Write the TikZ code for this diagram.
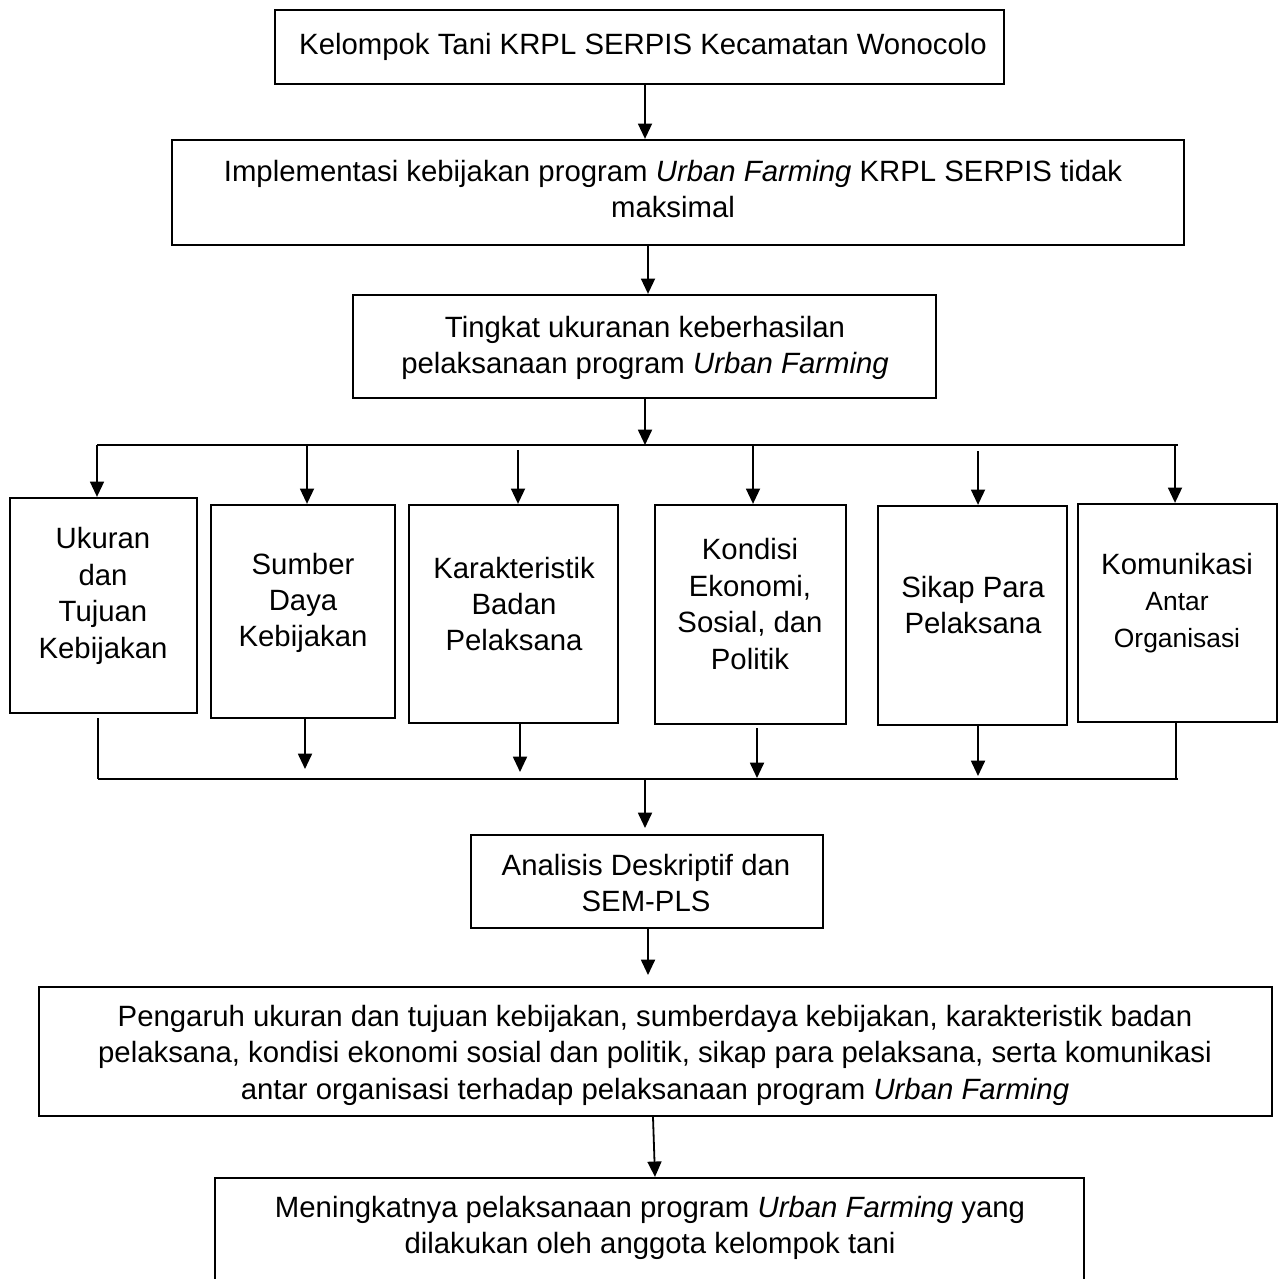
\documentclass[tikz,border=0pt]{standalone}
\usepackage{fontspec}
\setmainfont{Liberation Sans}
\usetikzlibrary{arrows.meta,fit,calc}
\newcommand{\smlfont}{\fontsize{19.8}{24.5}\selectfont}
\begin{document}
\begin{tikzpicture}[x=0.75pt,y=-0.75pt,
  box/.style={draw, line width=1.7pt, inner sep=0pt, rectangle},
  txt/.style={align=center, font=\fontsize{22}{27.3}\selectfont, inner sep=0pt},
  arr/.style={line width=1.35pt, -{Triangle[length=11.5pt,width=10.5pt]}},
  ln/.style={line width=1.35pt},
]
\useasboundingbox (0,0) rectangle (1280,1278);
\fill[white] (0,0) rectangle (1280,1278);

% main boxes
\node[box, fit={(275,10) (1004,84)}] (b1) {};
\node[box, fit={(172,140) (1184,245)}] (b2) {};
\node[box, fit={(353,295) (936,398)}] (b3) {};
\node[box, fit={(471,835) (823,928)}] (b4) {};
\node[box, fit={(39,987) (1272,1116)}] (b5) {};
\node[box, fit={(215,1178) (1084,1300)}] (b6) {};

\node[txt] (t1) at (643,47) {Kelompok Tani KRPL SERPIS Kecamatan Wonocolo};
\node[txt] (t2) at (673,189) {Implementasi kebijakan program \textit{Urban Farming} KRPL SERPIS tidak\\maksimal};
\node[txt] (t3) at (645,348) {Tingkat ukuranan keberhasilan\\pelaksanaan program \textit{Urban Farming}};
\node[txt] (t4) at (646,883) {Analisis Deskriptif dan\\SEM-PLS};
\node[txt] (t5) at (655,1055) {Pengaruh ukuran dan tujuan kebijakan, sumberdaya kebijakan, karakteristik badan\\pelaksana, kondisi ekonomi sosial dan politik, sikap para pelaksana, serta komunikasi\\antar organisasi terhadap pelaksanaan program \textit{Urban Farming}};
\node[txt] (t6) at (650,1228) {Meningkatnya pelaksanaan program \textit{Urban Farming} yang\\dilakukan oleh anggota kelompok tani};

% factor boxes
\node[box, fit={(10,498) (197,713)}] (f1) {};
\node[box, fit={(211,505) (395,718)}] (f2) {};
\node[box, fit={(409,505) (618,723)}] (f3) {};
\node[box, fit={(655,505) (846,724)}] (f4) {};
\node[box, fit={(878,506) (1067,725)}] (f5) {};
\node[box, fit={(1078,504) (1277,722)}] (f6) {};

\node[txt] (ft1) at (103,596) {Ukuran\\dan\\Tujuan\\Kebijakan};
\node[txt] (ft2) at (303,603) {Sumber\\Daya\\Kebijakan};
\node[txt] (ft3) at (514,604) {Karakteristik\\Badan\\Pelaksana};
\node[txt] (ft4) at (750,604) {Kondisi\\Ekonomi,\\Sosial, dan\\Politik};
\node[txt] (ft5) at (973,605) {Sikap Para\\Pelaksana};
\node[txt] (ft6) at (1177,603) {Komunikasi\\{\smlfont Antar}\\{\smlfont Organisasi}};

% vertical flow
\draw[arr] (645,0 |- b1.south) -- (645,0 |- b2.north);
\draw[arr] (648,0 |- b2.south) -- (648,0 |- b3.north);
\coordinate (top) at (645,445);
\draw[arr] (645,0 |- b3.south) -- (top);

% distribution line
\coordinate (tl) at (97,445);
\coordinate (tr) at (1178,445);
\draw[ln] (tl) -- (tr);
\draw[arr] (tl) -- (97,0 |- f1.north);
\draw[arr] (307,445) -- (307,0 |- f2.north);
\draw[arr] (518,450) -- (518,0 |- f3.north);
\draw[arr] (753,445) -- (753,0 |- f4.north);
\draw[arr] (978,451) -- (978,0 |- f5.north);
\draw[arr] (1175,445) -- (1175,0 |- f6.north);

% collection line
\coordinate (bl) at (98,779);
\coordinate (br) at (1178,779);
\draw[ln] (bl) -- (br);
\draw[ln] (98,718) -- (bl);
\draw[arr] (305,0 |- f2.south) -- (305,769);
\draw[arr] (520,0 |- f3.south) -- (520,772);
\draw[arr] (757,728) -- (757,778);
\draw[arr] (978,0 |- f5.south) -- (978,776);
\draw[ln] (1176,0 |- f6.south) -- (1176,779);
\coordinate (bot) at (645,779);
\draw[arr] (bot) -- (645,828);

\draw[arr] (648,0 |- b4.south) -- (648,975);
\draw[arr] (653,0 |- b5.south) -- (655,0 |- b6.north);
\end{tikzpicture}
\end{document}
